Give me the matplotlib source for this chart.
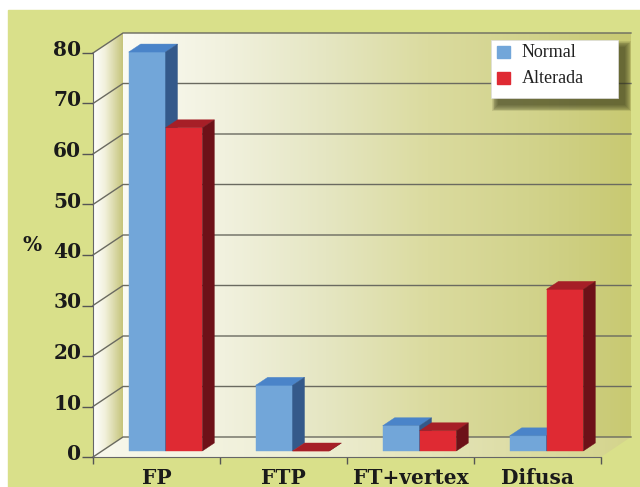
import numpy as np
import matplotlib
matplotlib.use('Agg')
import matplotlib.pyplot as plt
import matplotlib.transforms as mtransforms
from matplotlib.patches import Polygon, Rectangle
from matplotlib.colors import LinearSegmentedColormap

# datos
categorias = ['FP', 'FTP', 'FT+vertex', 'Difusa']
series = ['Normal', 'Alterada']
normal = [79, 13, 5, 3]
alterada = [64, 0, 4, 32]
yticks = [0, 10, 20, 30, 40, 50, 60, 70, 80]

# colores: frente, tapa, lado
col_normal = ('#72a6d9', '#4a84c9', '#34598a')
col_alterada = ('#df2a33', '#a61f27', '#6d1118')

fuente = 'DejaVu Serif'

fig = plt.figure(figsize=(6.4, 4.87), dpi=100)
fig.patch.set_facecolor('white')


def px(x, y):
    # pixeles de la imagen -> fraccion de figura
    return x / 640, 1 - y / 487


# fondo verde de la figura
fig.add_artist(Rectangle(px(8, 487), 1, 1 - 10 / 487, transform=fig.transFigure,
                         color='#d9e08a', zorder=-10))

ax = fig.add_axes([93 / 640, 30 / 487, 508 / 640, 404 / 487])
ax.set_autoscale_on(False)
ax.set_xlim(0, 4)
ax.set_ylim(0, 80)
ax.patch.set_visible(False)

DX, DY = 30 / 127, 20 / 5.05  # profundidad del "3D" en unidades de datos
ymax = yticks[-1]


def degradado(pts, colores, z):
    cmap = LinearSegmentedColormap.from_list('g', colores)
    xs = [p[0] for p in pts]
    ys = [p[1] for p in pts]
    im = ax.imshow(np.linspace(0, 1, 256).reshape(1, -1), cmap=cmap,
                   extent=(min(xs), max(xs), min(ys), max(ys)),
                   aspect='auto', zorder=z, interpolation='bilinear')
    im.set_clip_path(Polygon(pts, closed=True, transform=ax.transData))
    im.set_clip_box(fig.bbox)


# paredes y piso
lado = [(0, 0), (DX, DY), (DX, ymax + DY), (0, ymax)]
fondo = [(DX, DY), (4 + DX, DY), (4 + DX, ymax + DY), (DX, ymax + DY)]
piso = [(0, 0), (4, 0), (4 + DX, DY), (DX, DY)]
degradado(fondo, [(0, '#fbfbf3'), (0.2, '#f1f1de'), (0.4, '#e5e6c2'),
                  (0.6, '#dbdb9f'), (0.8, '#d2d38c'), (1, '#c8c972')], 0)
degradado(lado, [(0, '#ffffff'), (0.4, '#f2f1dc'), (1, '#c5c47a')], 0)
degradado(piso, [(0, '#f8f8ec'), (0.4, '#eeeed4'), (1, '#d4d48c')], 0.5)

# lineas de la grilla
for v in yticks:
    ax.plot([0, DX, 4 + DX], [v, v + DY, v + DY], color='#6a6a60', lw=1,
            clip_on=False, zorder=1)

# barras
w = 0.29
f0, f1 = 0.3, 0.7


def barra(x0, h, cols):
    ox, oy = f0 * DX, f0 * DY
    bx, by = (f1 - f0) * DX, (f1 - f0) * DY
    frente = [(x0 + ox, oy), (x0 + w + ox, oy), (x0 + w + ox, h + oy), (x0 + ox, h + oy)]
    tapa = [(x0 + ox, h + oy), (x0 + w + ox, h + oy),
            (x0 + w + ox + bx, h + oy + by), (x0 + ox + bx, h + oy + by)]
    costado = [(x0 + w + ox, oy), (x0 + w + ox + bx, oy + by),
               (x0 + w + ox + bx, h + oy + by), (x0 + w + ox, h + oy)]
    for pts, c in zip([frente, tapa, costado], cols):
        ax.add_patch(Polygon(pts, closed=True, facecolor=c, edgecolor=c, lw=0.3,
                             clip_on=False, zorder=3))


for i in range(len(categorias)):
    barra(i + 0.5 - w, normal[i], col_normal)
    barra(i + 0.5, alterada[i], col_alterada)

# ejes
for s in ['top', 'right']:
    ax.spines[s].set_visible(False)
for s in ['left', 'bottom']:
    ax.spines[s].set_color('#666666')
    ax.spines[s].set_zorder(4)

ax.set_yticks(yticks)
ax.set_yticklabels([str(v) for v in yticks], fontsize=14.5, fontweight='bold',
                   family=fuente, color='#1a1a1a')
ax.tick_params(axis='y', length=8, width=1, color='#555555', pad=0.5)
# las etiquetas quedan un poco por encima de la marca
baja = mtransforms.ScaledTranslation(0, -3 / 100, fig.dpi_scale_trans)
for t in ax.get_yticklabels():
    t.set_va('baseline')
    t.set_transform(t.get_transform() + baja)

ax.set_xticks(range(len(categorias) + 1))
ax.set_xticklabels([''] * (len(categorias) + 1))
ax.tick_params(axis='x', which='major', length=5, width=1, color='#555555')
ax.set_xticks(np.arange(len(categorias)) + 0.5, minor=True)
ax.set_xticklabels(categorias, minor=True, fontsize=14.5, fontweight='bold',
                   family=fuente, color='#1a1a1a')
ax.tick_params(axis='x', which='minor', length=0, pad=8)

ax.set_ylabel('%', rotation=0, fontsize=14.5, fontweight='bold', family=fuente,
              color='#1a1a1a', va='center', ha='center')
ax.yaxis.set_label_coords(-0.12, 0.525)

# leyenda con sombra
lx, ly, lw_, lh = 491, 40, 127, 58
for k in range(8):
    fig.add_artist(Rectangle(px(lx + 7 - k * 0.9, ly + lh + 7 + k * 0.9),
                             (lw_ + 2 * k * 0.9) / 640, (lh + 2 * k * 0.9) / 487,
                             transform=fig.transFigure, color='#2f3010',
                             alpha=0.11, lw=0, zorder=5))
fig.add_artist(Rectangle(px(lx, ly + lh), lw_ / 640, lh / 487,
                         transform=fig.transFigure, facecolor='white',
                         edgecolor='#dddddd', lw=0.5, zorder=6))
for j, (nombre, cols) in enumerate(zip(series, [col_normal, col_alterada])):
    yy = 46 + j * 26
    fig.add_artist(Rectangle(px(497, yy + 12), 13 / 640, 12 / 487,
                             transform=fig.transFigure, color=cols[0], zorder=7))
    fig.text(*px(522, yy + 6.5), nombre, fontsize=13, family='Liberation Serif',
             color='#222222', va='center', ha='left', zorder=7)

fig.savefig('out.png', dpi=100)
